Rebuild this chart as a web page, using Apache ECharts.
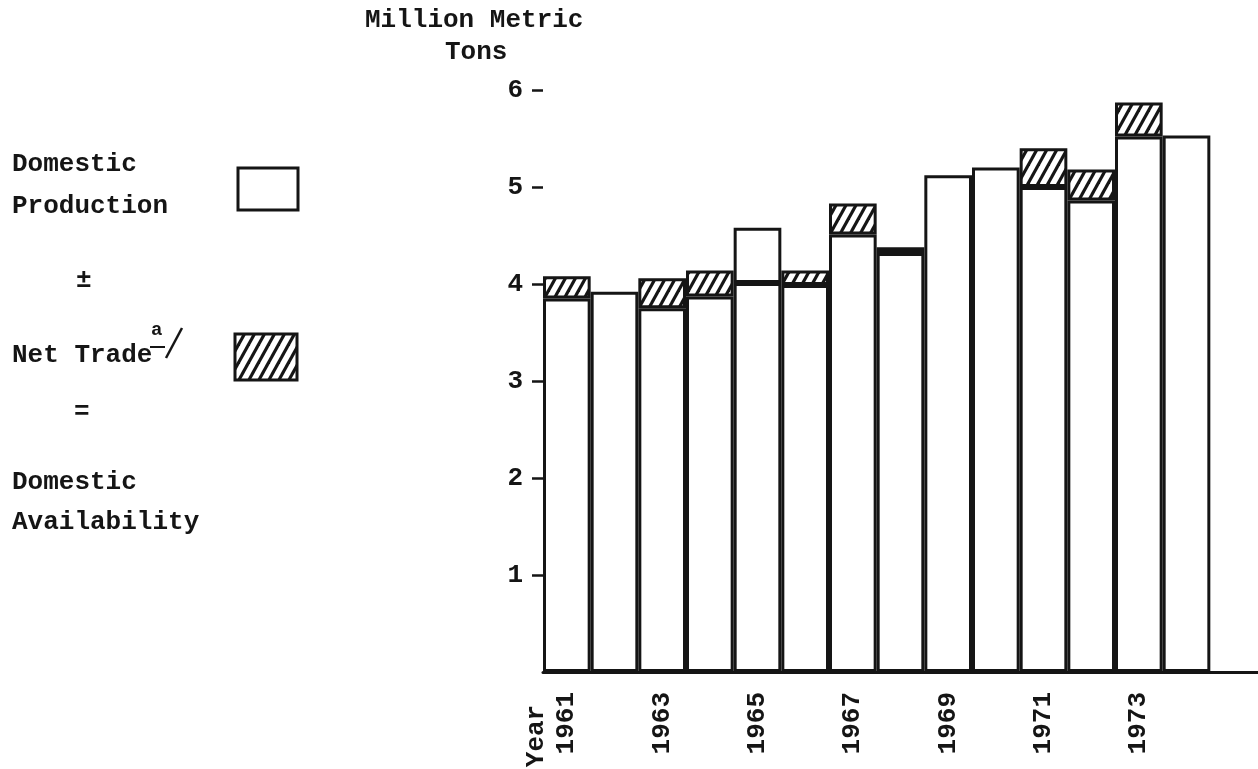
<!DOCTYPE html>
<html>
<head>
<meta charset="utf-8">
<script src="https://cdn.jsdelivr.net/npm/echarts@6/dist/echarts.min.js"></script>
<style>
html,body{margin:0;padding:0;background:#fff;}
#chart{width:1258px;height:769px;}
</style>
</head>
<body>
<div id="chart"></div>
<script>
// ---- data ----
var years = ['1961','1962','1963','1964','1965','1966','1967','1968','1969','1970','1971','1972','1973','1974'];
var production = [3.85, 3.92, 3.75, 3.87, 4.58, 3.99, 4.51, 4.32, 5.12, 5.20, 5.00, 4.86, 5.52, 5.53];
var netTrade   = [0.23, 0,    0.31, 0.27, -0.57, 0.15, 0.32, 0.06, 0,    0,    0.40, 0.32, 0.35, 0];
var yTicks = [0, 1, 2, 3, 4, 5, 6];

// ---- derived ----
var INK = '#151515';
var FONT = '"Liberation Mono", "DejaVu Sans Mono", monospace';

function hatchCanvas() {
  var w = 10, h = 18;
  var c = document.createElement('canvas');
  c.width = w; c.height = h;
  var g = c.getContext('2d');
  g.fillStyle = '#fff';
  g.fillRect(0, 0, w, h);
  g.strokeStyle = INK;
  g.lineWidth = 3.2;
  for (var k = -1; k <= 1; k++) {
    g.beginPath();
    g.moveTo(k * w - w * 0.5, h * 1.5);
    g.lineTo(k * w + w * 1.5, -h * 0.5);
    g.stroke();
  }
  return c;
}
var hatch = { image: hatchCanvas(), repeat: 'repeat' };

var cats = years.concat(['']);
var baseData = [], tradeData = [];
for (var i = 0; i < years.length; i++) {
  var p = production[i], t = netTrade[i];
  baseData.push(Math.min(p, p + t));
  if (t === 0) {
    tradeData.push('-');
  } else {
    tradeData.push({
      value: Math.abs(t),
      // exports (negative net trade) were left unshaded in the original
      itemStyle: { color: t > 0 ? hatch : '#fff' }
    });
  }
}
var shownTicks = yTicks.filter(function (v) { return v !== 0; });

var chart = echarts.init(document.getElementById('chart'), null, { renderer: 'canvas' });

var textStyleBase = { fill: INK, font: 'bold 26px ' + FONT };
// y given as the text baseline; converted to a top-aligned box
function txt(s, x, y, extra) {
  var st = Object.assign({ text: s, x: x, y: y - 21, verticalAlign: 'top' }, textStyleBase, extra || {});
  return { type: 'text', style: st, silent: true };
}

chart.setOption({
  animation: false,
  backgroundColor: '#fff',
  grid: { left: 543, top: 90, width: 720, bottom: 97 },
  xAxis: {
    type: 'category',
    data: cats,
    boundaryGap: true,
    axisLine: { show: true, lineStyle: { color: INK, width: 3 } },
    axisTick: { show: false },
    axisLabel: {
      interval: 1,
      rotate: 90,
      margin: 20,
      color: INK,
      fontFamily: FONT,
      fontWeight: 'bold',
      fontSize: 26
    },
    splitLine: { show: false }
  },
  yAxis: {
    type: 'value',
    min: yTicks[0],
    max: yTicks[yTicks.length - 1],
    interval: 1,
    axisLine: { show: false },
    axisTick: { show: true, length: 11, customValues: shownTicks, lineStyle: { color: INK, width: 2.5 } },
    splitLine: { show: false },
    axisLabel: {
      margin: 20,
      color: INK,
      fontFamily: FONT,
      fontWeight: 'bold',
      fontSize: 26,
      customValues: shownTicks,
      formatter: function (v) { return v === 0 ? '' : String(v); }
    }
  },
  series: [
    {
      name: 'Domestic Production',
      type: 'bar',
      stack: 'avail',
      barCategoryGap: '0%',
      data: baseData,
      itemStyle: { color: '#fff', borderColor: INK, borderWidth: 3 }
    },
    {
      name: 'Net Trade',
      type: 'bar',
      stack: 'avail',
      barCategoryGap: '0%',
      data: tradeData,
      itemStyle: { color: hatch, borderColor: INK, borderWidth: 3 }
    }
  ],
  graphic: [
    txt('Million Metric', 365, 28),
    txt('Tons', 445, 60),
    txt('Domestic', 12, 172),
    txt('Production', 12, 214),
    { type: 'rect', shape: { x: 238, y: 168, width: 60, height: 42 },
      style: { fill: '#fff', stroke: INK, lineWidth: 3 }, silent: true },
    txt('\u00b1', 76, 288),
    txt('Net Trade', 12, 363),
    txt('a', 151, 342, { font: 'bold 19px ' + FONT }),
    { type: 'line', shape: { x1: 150, y1: 347, x2: 165, y2: 347 },
      style: { stroke: INK, lineWidth: 2 }, silent: true },
    { type: 'line', shape: { x1: 166, y1: 358, x2: 182, y2: 328 },
      style: { stroke: INK, lineWidth: 2.5 }, silent: true },
    { type: 'rect', shape: { x: 235, y: 334, width: 62, height: 46 },
      style: { fill: hatch, stroke: INK, lineWidth: 3 }, silent: true },
    txt('=', 74, 420),
    txt('Domestic', 12, 490),
    txt('Availability', 12, 530),
    { type: 'text', rotation: Math.PI / 2, x: 536, y: 736,
      style: Object.assign({ text: 'Year', align: 'center', verticalAlign: 'middle' }, textStyleBase),
      silent: true }
  ]
});
</script>
</body>
</html>
